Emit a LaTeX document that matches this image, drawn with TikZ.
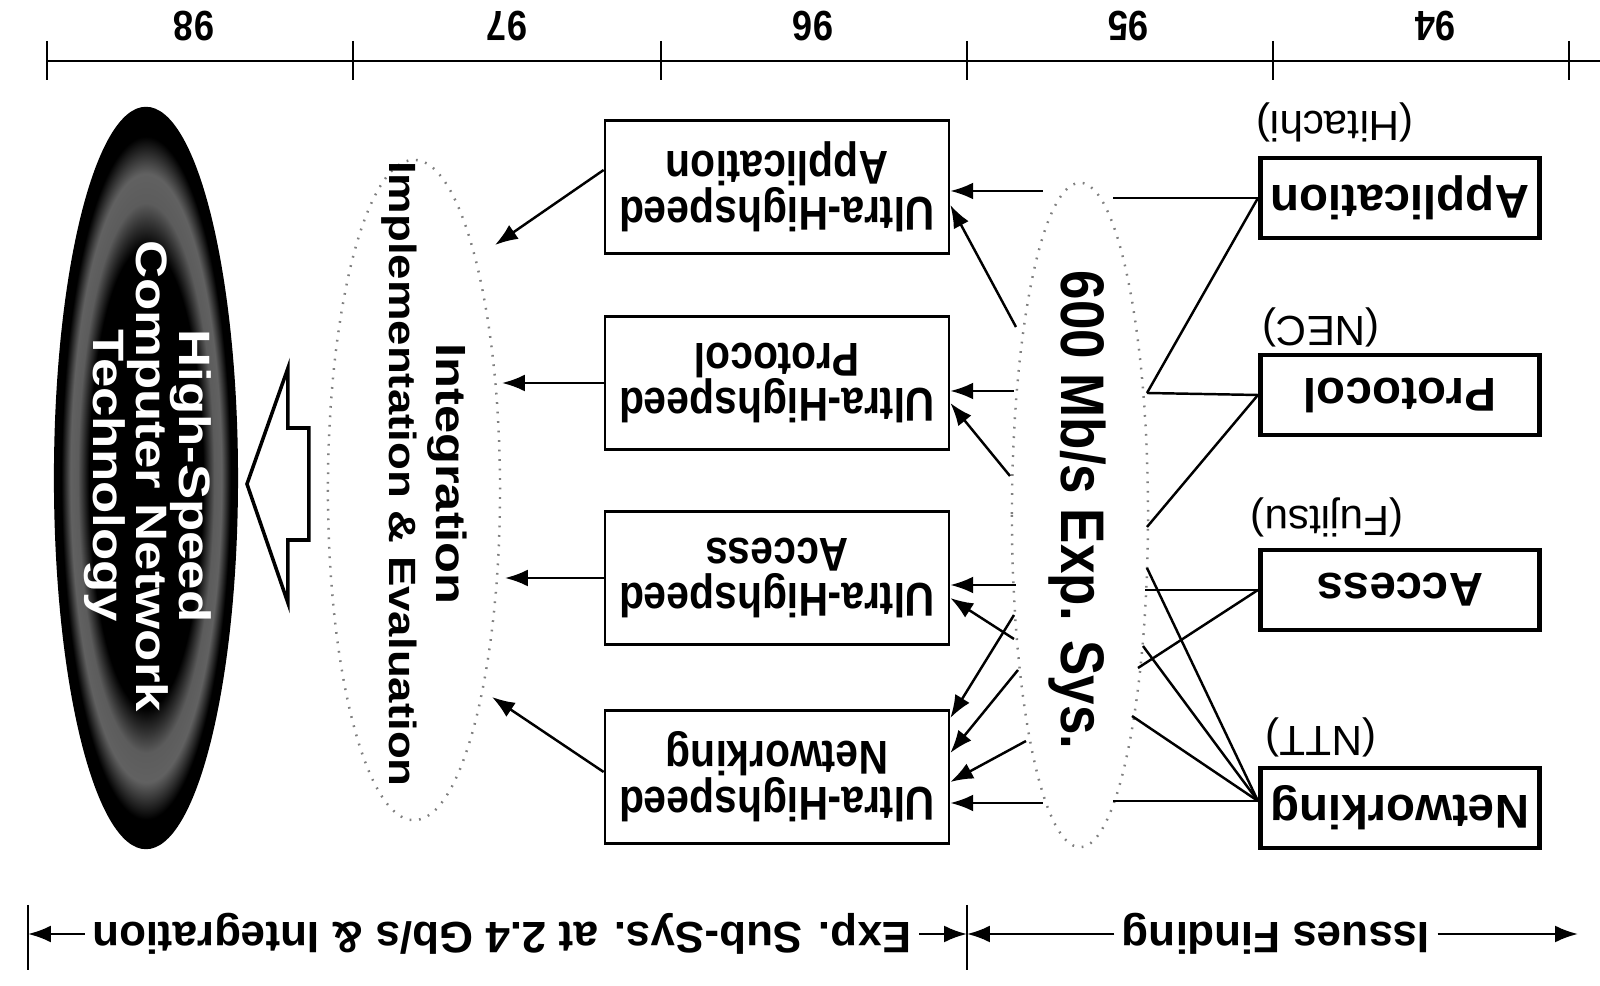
\documentclass[tikz,border=0pt]{standalone}
\usepackage{fontspec}
\setmainfont{Liberation Sans}
\newfontfamily\cnfont[FakeStretch=0.86]{Liberation Sans}
\newfontfamily\wdfont[FakeStretch=1.2]{Liberation Sans}
\usetikzlibrary{arrows.meta,calc}
\newcommand\tightskip{\lineskiplimit=-20pt\relax}

\pgfdeclareradialshading{glow}{\pgfpoint{0bp}{0bp}}{rgb(0bp)=(0,0,0); rgb(15.5bp)=(0,0,0); rgb(18.5bp)=(0.36,0.36,0.36); rgb(20.5bp)=(0.38,0.38,0.38); rgb(23bp)=(0,0,0); rgb(25bp)=(0,0,0); rgb(50bp)=(0,0,0)}

\tikzset{
  link/.style={line width=0.7pt},
  issue/.style={draw, line width=1.4pt, minimum width=2.79cm, minimum height=0.8cm, inner sep=0pt, font=\fontsize{13.5}{16}\selectfont\bfseries},
  ultra/.style={draw, line width=0.7pt, minimum width=3.44cm, minimum height=1.33cm, align=center, font=\cnfont\fontsize{13.5}{13}\selectfont\bfseries\tightskip},
  firm/.style={font=\fontsize{12}{14}\selectfont},
  yr/.style={font=\cnfont\fontsize{12}{13}\selectfont\bfseries},
  phase/.style={inner sep=2pt, font=\fontsize{12.5}{15}\selectfont\bfseries},
  haze/.style={draw=black!50, line width=0.7pt, dash pattern=on 0.5pt off 2.2pt},
  slab/.style={rotate=90, font=\cnfont\fontsize{17.5}{18}\selectfont\bfseries},
  integ/.style={rotate=90, align=center, font=\wdfont\fontsize{10.8}{13.3}\selectfont\bfseries\tightskip},
  globe/.style={rotate=90, align=center, text=white, inner sep=0pt, font=\wdfont\fontsize{12.5}{12.2}\selectfont\bfseries\tightskip}
}

\begin{document}
\begin{tikzpicture}[x=0.01cm, y=0.01cm, rotate=180, transform shape, >={Latex[length=6.5pt,width=4.8pt]}]
	\useasboundingbox (0,0) rectangle (1600,986);
	% year scale
	\draw[link] (0,61) -- (1553,61);
	\foreach \t in {31,327,633,939,1247,1553}
		\draw[link] (\t,41) -- (\t,80);
	\foreach \yr/\px in {94/165,95/472,96/787,97/1093,98/1406}
		\node[yr] (y\yr) at (\px,26) {\yr};
	% issues
	\node[issue] (app) at (200,198) {Application};
	\node[issue] (pro) at (200,395) {Protocol};
	\node[issue] (acc) at (200,590) {Access};
	\node[issue] (net) at (200,808) {Networking};
	\node[firm] (hit) at (265,122) {(Hitachi)};
	\node[firm] (nec) at (279,327) {(NEC)};
	\node[firm] (fuj) at (273,517) {(Fujitsu)};
	\node[firm] (ntt) at (279,737) {(NTT)};
	% 600 Mb/s
	\draw[haze] (520,515) ellipse [x radius=0.68cm, y radius=3.32cm];
	\node[slab] (exp) at (523,510) {600 Mb/s Exp. Sys.};
	% sub-systems
	\node[ultra] (uapp) at (823,187) {Ultra-Highspeed\\Application};
	\node[ultra] (upro) at (823,383) {Ultra-Highspeed\\Protocol};
	\node[ultra] (uacc) at (823,578) {Ultra-Highspeed\\Access};
	\node[ultra] (unet) at (823,777) {Ultra-Highspeed\\Networking};
	% integration
	\draw[haze] (1186,490) ellipse [x radius=0.86cm, y radius=3.3cm];
	\node[integ] (integ) at (1176,474) {{\fontsize{12}{13.3}\selectfont Integration}\\Implementation \& Evaluation};
	% big arrow
	\draw[line width=1pt] (1291,428) -- (1312,428) -- (1312,368) -- (1353,484)
		-- (1312,603) -- (1312,540) -- (1291,540) -- cycle;
	% goal
	\shade[shading=glow] (1454,478) ellipse [x radius=0.92cm, y radius=3.71cm];
	\node[globe] (hsc) at (1452,476) {High-Speed\\Computer Network\\Technology};

	% issues -> 600
	\coordinate (h1) at (487,198);
	\coordinate (h2) at (453,393);
	\coordinate (h3) at (453,527);
	\coordinate (h4) at (455,590);
	\coordinate (h5) at (462,668);
	\coordinate (h6) at (453,568);
	\coordinate (h7) at (457,646);
	\coordinate (h8) at (468,716);
	\coordinate (h9) at (487,801);
	\draw[link] (app.east) -- (h1);
	\draw[link] (app.east) -- (h2);
	\draw[link] (pro.east) -- (h2);
	\draw[link] (pro.east) -- (h3);
	\draw[link] (acc.east) -- (h4);
	\draw[link] (acc.east) -- (h5);
	\coordinate (nj) at ($(net.east)+(0,-7)$);
	\foreach \h in {h6,h7,h8,h9}
		\draw[link] (nj) -- (\h);

	% 600 -> sub-systems
	\foreach \n/\sx/\sy in {a/557/191, b/584/327, c/586/391, d/590/476, e/584/585,
		f/586/639, g/586/615, h/582/670, i/574/741, j/557/803}
		\coordinate (s\n) at (\sx,\sy);
	\foreach \n/\bx/\dy in {a/uapp/4, b/uapp/18, c/upro/8, d/upro/20, e/uacc/7,
		f/uacc/20, g/unet/-59, h/unet/-24, i/unet/5, j/unet/26}
		\draw[link,->] (s\n) -- ($(\bx.west)+(0,\dy)$);

	% sub-systems -> integration
	\coordinate (t1) at (1105,245);
	\coordinate (t2) at (1098,383);
	\coordinate (t3) at (1095,578);
	\coordinate (t4) at (1108,697);
	\draw[link,->] ($(uapp.east)+(0,-17)$) -- (t1);
	\draw[link,->] (upro.east) -- (t2);
	\draw[link,->] (uacc.east) -- (t3);
	\draw[link,->] ($(unet.east)+(0,-5)$) -- (t4);

	% phases
	\draw[link] (1572,905) -- (1572,970);
	\draw[link] (633,905) -- (633,970);
	\coordinate (barL) at (1572,934);
	\coordinate (barM) at (633,934);
	\coordinate (endR) at (22,934);
	\node[phase] (isf) at (324,934) {Issues Finding};
	\node[phase] (exs) at (1098,934) {Exp. Sub-Sys. at 2.4 Gb/s \& Integration};
	\draw[link,->] (isf) -- (endR);
	\draw[link,->] (isf) -- (barM);
	\draw[link,->] (exs) -- (barM);
	\draw[link,->] (exs) -- (barL);
\end{tikzpicture}
\end{document}
